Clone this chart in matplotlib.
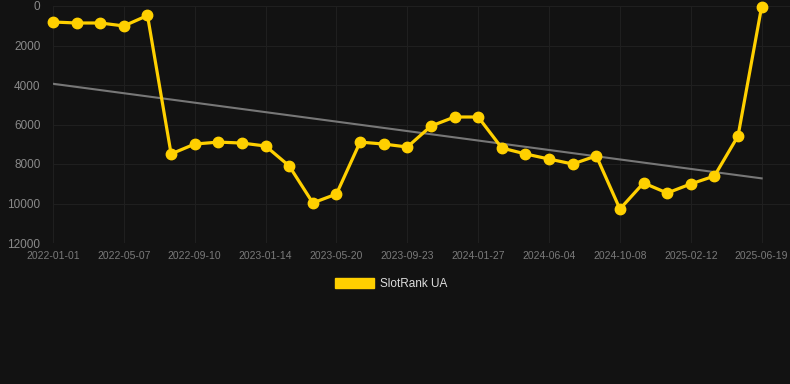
import numpy as np
import matplotlib.pyplot as plt
from matplotlib.patches import Patch

plt.rcParams['font.family'] = ['Liberation Sans', 'DejaVu Sans']

# x categories (one point every ~6 weeks, labelled every third one)
tick_labels = ['2022-01-01', '2022-05-07', '2022-09-10', '2023-01-14', '2023-05-20',
               '2023-09-23', '2024-01-27', '2024-06-04', '2024-10-08', '2025-02-12',
               '2025-06-19']
rank = [810, 860, 860, 1010, 480, 7490, 6990, 6890, 6940, 7090,
        8100, 9970, 9520, 6890, 6990, 7140, 6080, 5620, 5620, 7190,
        7490, 7750, 8000, 7590, 10280, 8960, 9470, 9010, 8610, 6580, 30]

bg = '#121212'
yellow = '#FFD000'

x = np.arange(len(rank))
coef = np.polyfit(x, rank, 1)
trend = np.polyval(coef, x)

fig = plt.figure(figsize=(7.9, 3.84), dpi=100, facecolor=bg)
ax = fig.add_axes([53 / 790, 1 - 243 / 384, 737 / 790, 237 / 384])
ax.set_facecolor(bg)

ax.plot(x, trend, color='#777777', linewidth=1.5, zorder=2)
ax.plot(x, rank, color=yellow, linewidth=2.3, marker='o', markersize=7.5,
        zorder=3, clip_on=False)

ax.set_ylim(12000, 0)
ax.set_xlim(0, 31.2)
ax.set_yticks(range(0, 12001, 2000))
ax.set_xticks(x[::3])
ax.set_xticklabels(tick_labels)
ax.grid(True, color='#1f1f1f', linewidth=0.8)
ax.set_axisbelow(True)
for s in ax.spines.values():
    s.set_visible(False)
ax.tick_params(axis='y', length=0, pad=9, labelsize=8.5, labelcolor='#8a8a8a')
ax.tick_params(axis='x', length=0, pad=6, labelsize=7.5, labelcolor='#7a7a7a')

handle = Patch(facecolor=yellow, edgecolor=yellow)
fig.legend([handle], ['SlotRank UA'], loc='center', bbox_to_anchor=(0.495, 0.26),
           frameon=False, fontsize=8.5, labelcolor='#dddddd',
           handlelength=3.3, handleheight=0.9, handletextpad=0.5)

fig.savefig('out.png', dpi=100, facecolor=bg)
